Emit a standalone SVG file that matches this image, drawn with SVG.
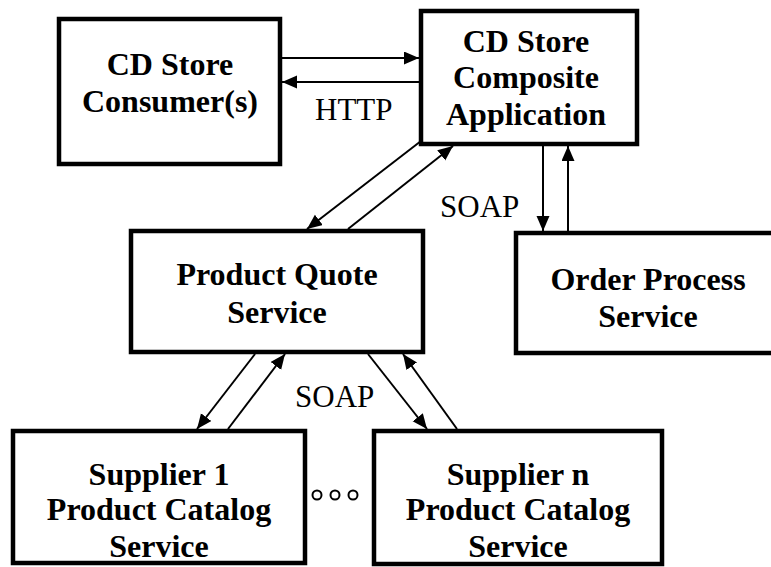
<svg xmlns="http://www.w3.org/2000/svg" width="771" height="567" viewBox="0 0 771 567">
<style>
.box{fill:#fff;stroke:#000;stroke-width:4.5}
.lbl{font-family:'Liberation Serif','Times New Roman','DejaVu Serif',serif;font-weight:700;font-size:32px;text-anchor:middle;fill:#000}
.proto{font-family:'Liberation Serif','Times New Roman','DejaVu Serif',serif;font-size:31px;fill:#000}
.conn{stroke:#000;stroke-width:2;fill:none;marker-end:url(#ah)}
.dot{fill:#fff;stroke:#000;stroke-width:2}
</style>
<defs>
<marker id="ah" markerUnits="userSpaceOnUse" markerWidth="16" markerHeight="14" refX="15" refY="6.5" orient="auto">
<path d="M0,0 L15,6.5 L0,13 z" fill="#000"/>
</marker>
</defs>
<rect width="771" height="567" fill="#fff"/>
<g id="consumer">
<rect class="box" x="59" y="19" width="221" height="145"/>
<text class="lbl" x="170" y="75">CD Store</text>
<text class="lbl" x="170" y="112">Consumer(s)</text>
</g>
<g id="composite">
<rect class="box" x="421" y="11" width="216" height="133"/>
<text class="lbl" x="526" y="52">CD Store</text>
<text class="lbl" x="526" y="88">Composite</text>
<text class="lbl" x="526" y="125">Application</text>
</g>
<g id="productquote">
<rect class="box" x="131" y="231" width="292" height="121"/>
<text class="lbl" x="277" y="285">Product Quote</text>
<text class="lbl" x="277" y="323">Service</text>
</g>
<g id="orderprocess">
<rect class="box" x="516" y="233" width="262" height="120"/>
<text class="lbl" x="648" y="290">Order Process</text>
<text class="lbl" x="648" y="327">Service</text>
</g>
<g id="supplier1">
<rect class="box" x="13" y="431" width="292" height="132"/>
<text class="lbl" x="159" y="485">Supplier 1</text>
<text class="lbl" x="159" y="520">Product Catalog</text>
<text class="lbl" x="159" y="557">Service</text>
</g>
<g id="suppliern">
<rect class="box" x="374" y="431" width="288" height="133"/>
<text class="lbl" x="518" y="485">Supplier n</text>
<text class="lbl" x="518" y="520">Product Catalog</text>
<text class="lbl" x="518" y="557">Service</text>
</g>
<g id="ellipsis">
<circle class="dot" cx="317" cy="495" r="4.5"/>
<circle class="dot" cx="335" cy="495" r="4.5"/>
<circle class="dot" cx="353" cy="495" r="4.5"/>
</g>
<g id="connectors">
<line class="conn" x1="282" y1="58" x2="419" y2="58"/>
<line class="conn" x1="419" y1="82" x2="282" y2="82"/>
<line class="conn" x1="421" y1="141" x2="307" y2="229"/>
<line class="conn" x1="348" y1="229" x2="453" y2="146"/>
<line class="conn" x1="543" y1="146" x2="543" y2="231"/>
<line class="conn" x1="568" y1="231" x2="568" y2="146"/>
<line class="conn" x1="255" y1="354" x2="197" y2="429"/>
<line class="conn" x1="228" y1="429" x2="285" y2="354"/>
<line class="conn" x1="368" y1="354" x2="427" y2="429"/>
<line class="conn" x1="457" y1="429" x2="403" y2="354"/>
<text class="proto" x="315" y="120">HTTP</text>
<text class="proto" x="440" y="217">SOAP</text>
<text class="proto" x="295" y="407">SOAP</text>
</g>
</svg>
